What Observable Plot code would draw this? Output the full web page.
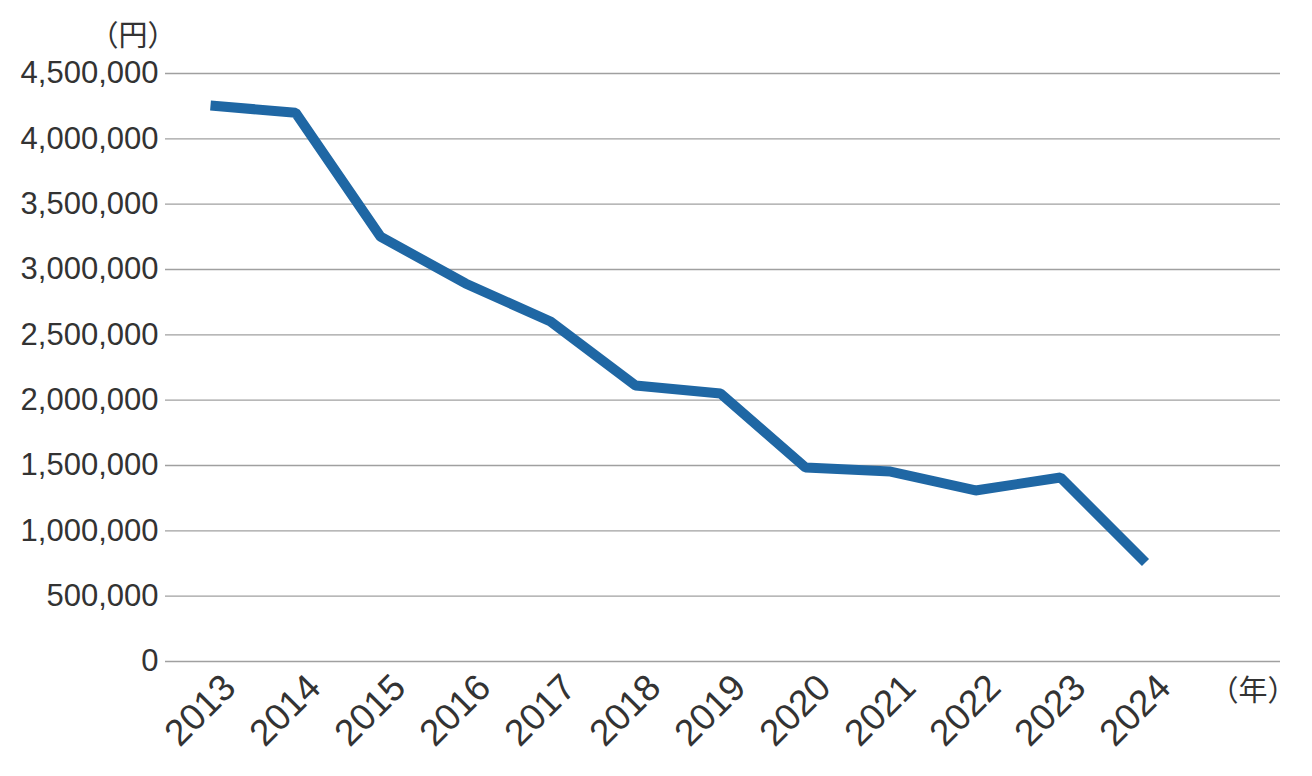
<!DOCTYPE html>
<html><head><meta charset="utf-8">
<script src="https://cdn.jsdelivr.net/npm/d3@7"></script>
<script src="https://cdn.jsdelivr.net/npm/@observablehq/plot@0.6"></script>
<style>body{margin:0;background:#fff}</style>
</head><body><div id="chart"></div>
<script>
const years = ["2013","2014","2015","2016","2017","2018","2019","2020","2021","2022","2023","2024"];
const values = [4255000, 4200000, 3252000, 2893000, 2602000, 2112000, 2051000, 1485000, 1454000, 1309000, 1408000, 758000];
const yTicks = [0, 500000, 1000000, 1500000, 2000000, 2500000, 3000000, 3500000, 4000000, 4500000];
const yUnit = "（円）";
const xUnit = "（年）";

const data = years.map((y, i) => ({year: y, value: values[i]}));

const chart = Plot.plot({
  width: 1312,
  height: 776,
  marginTop: 73,
  marginBottom: 115,
  marginLeft: 165,
  marginRight: 32,
  style: {fontFamily: "'Liberation Sans', Arial, 'Noto Sans CJK JP', sans-serif", color: "#333", background: "#fff"},
  x: {type: "point", domain: years, padding: 1, align: 0.25},
  y: {domain: [0, 4500000]},
  marks: [
    Plot.gridY(yTicks, {stroke: "#a0a0a0", strokeOpacity: 1, strokeWidth: 1.3}),
    Plot.axisY(yTicks, {tickSize: 0, tickPadding: 7, fontSize: 31, tickFormat: d3.format(","), label: null, fill: "#333"}),
    Plot.axisX({tickSize: 0, tickRotate: -45, fontSize: 37, dx: 19, dy: 8, label: null, fill: "#333"}),
    Plot.line(data, {x: "year", y: "value", stroke: "#1f67a4", strokeWidth: 10, strokeLinecap: "butt", strokeLinejoin: "miter"}),
    Plot.text([yUnit], {frameAnchor: "top-left", textAnchor: "end", dx: 11, dy: -48, fontSize: 29, fontFamily: "'Noto Sans CJK JP', sans-serif", fill: "#333"}),
    Plot.text([xUnit], {frameAnchor: "bottom-right", textAnchor: "end", dx: 16, dy: 39, fontSize: 29, fontFamily: "'Noto Sans CJK JP', sans-serif", fill: "#333"})
  ]
});
document.getElementById("chart").appendChild(chart);
</script>
</body></html>
